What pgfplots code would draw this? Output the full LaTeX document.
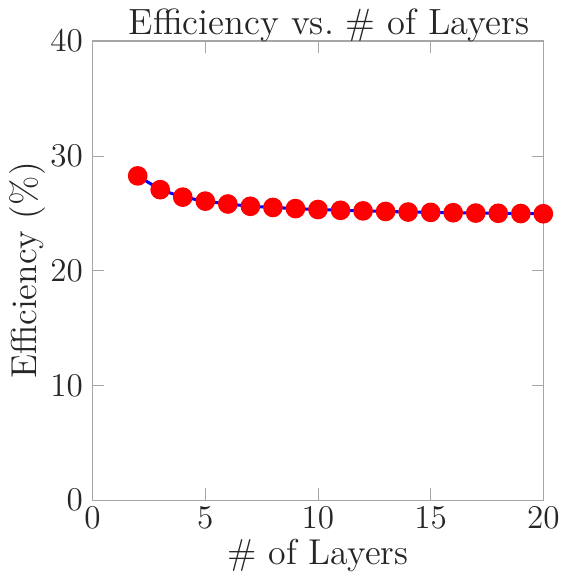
\documentclass[border=0pt]{standalone}
\usepackage{pgfplots}
\pgfplotsset{compat=1.18}
\definecolor{txt}{HTML}{262626}
\begin{document}
\begin{tikzpicture}
\begin{axis}[
  scale only axis,
  width=163pt, height=166pt,
  xmin=0, xmax=20, ymin=0, ymax=40,
  xtick={0,5,10,15,20},
  ytick={0,10,20,30,40},
  tick align=inside,
  axis line style={gray!70},
  major tick style={gray!70},
  tick label style={font=\fontsize{12.5}{14}\selectfont, text=txt},
  xticklabel style={yshift=1pt},
  title={Efficiency vs.\ \# of Layers},
  title style={font=\fontsize{13.2}{15}\selectfont, text=txt, yshift=-10pt, xshift=4pt},
  xlabel={\# of Layers},
  ylabel={Efficiency (\%)},
  xlabel style={yshift=3pt},
  ylabel style={yshift=-5pt},
  label style={font=\fontsize{13}{15}\selectfont, text=txt},
  clip=false,
]
\addplot[blue, line width=1.1pt, mark=*, mark size=3pt,
  mark options={fill=red, draw=red}] coordinates {
  (2,28.25) (3,27.05) (4,26.4) (5,26.05) (6,25.8) (7,25.6) (8,25.5)
  (9,25.4) (10,25.32) (11,25.25) (12,25.2) (13,25.15) (14,25.1)
  (15,25.07) (16,25.04) (17,25.01) (18,24.99) (19,24.97) (20,24.95)
};
\end{axis}
\end{tikzpicture}
\end{document}
